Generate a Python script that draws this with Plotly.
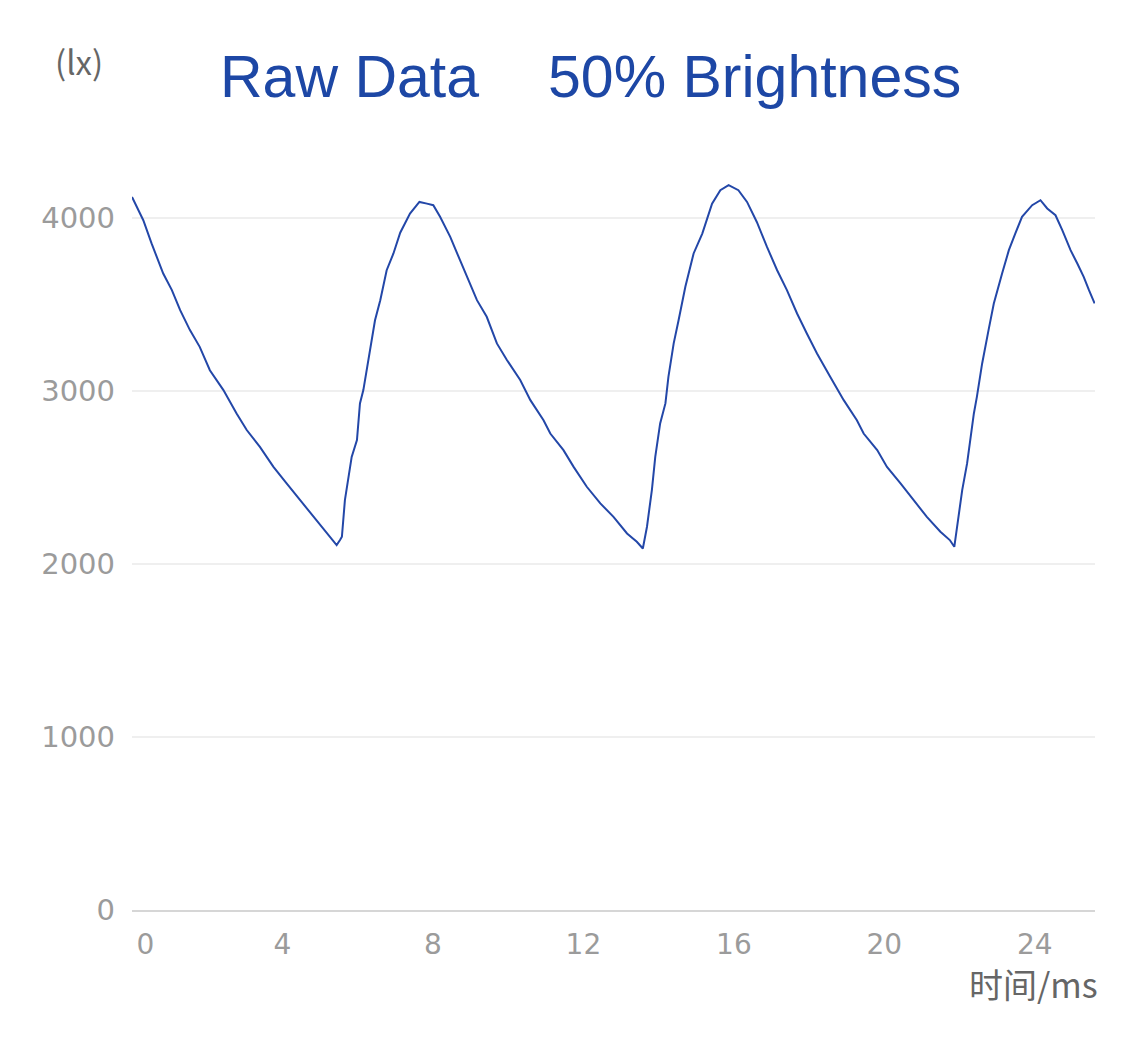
import plotly.graph_objects as go

time_ms = [0, 0.30, 0.52, 0.83, 1.06, 1.28, 1.54, 1.80, 2.07, 2.43, 2.78, 3.05, 3.40, 3.76, 4.11,
           4.47, 4.82, 5.18, 5.44, 5.53, 5.58, 5.66, 5.75, 5.84, 5.98, 6.06, 6.15, 6.33, 6.46, 6.60,
           6.77, 6.95, 7.13, 7.39, 7.64, 7.84, 8.01, 8.19, 8.46, 8.72, 8.99, 9.17, 9.43, 9.70, 9.97,
           10.32, 10.59, 10.94, 11.12, 11.47, 11.74, 12.09, 12.45, 12.80, 13.16, 13.42, 13.58, 13.69,
           13.82, 13.91, 14.04, 14.18, 14.26, 14.40, 14.53, 14.71, 14.93, 15.16, 15.42, 15.64, 15.86,
           16.12, 16.35, 16.61, 16.88, 17.15, 17.41, 17.68, 17.94, 18.21, 18.56, 18.92, 19.27, 19.45,
           19.81, 20.07, 20.43, 20.78, 21.13, 21.49, 21.74, 21.86, 21.98, 22.07, 22.20, 22.38, 22.46,
           22.60, 22.77, 22.91, 23.13, 23.31, 23.48, 23.66, 23.93, 24.15, 24.33, 24.55, 24.73, 24.95,
           25.13, 25.30, 25.44, 25.59]

lux = [4123, 3988, 3854, 3680, 3584, 3468, 3353, 3256, 3121, 3006, 2871, 2775, 2678, 2562, 2466,
       2370, 2273, 2177, 2110, 2139, 2158, 2370, 2486, 2620, 2717, 2929, 3006, 3256, 3410, 3526,
       3699, 3796, 3916, 4027, 4094, 4084, 4075, 4008, 3892, 3757, 3622, 3526, 3430, 3276, 3179,
       3064, 2948, 2832, 2755, 2659, 2562, 2447, 2351, 2273, 2177, 2129, 2090, 2216,
       2428, 2620, 2813, 2929, 3083, 3276, 3410, 3603, 3796, 3911, 4084, 4162, 4191,
       4162, 4094, 3978, 3834, 3699, 3584, 3449, 3333, 3218, 3083, 2948, 2832, 2755,
       2659, 2562, 2466, 2370, 2273, 2187, 2139, 2100, 2293, 2428, 2582, 2871, 2967,
       3160, 3353, 3507, 3680, 3815, 3911, 4008, 4075, 4104, 4056, 4017, 3931, 3815,
       3738, 3661, 3584, 3507]

x_tick_vals = [0, 4, 8, 12, 16, 20, 24]
x_tick_text = ["\u00a0\u00a0\u00a00", "4", "8", "12", "16", "20", "24"]
y_tick_vals = [0, 1000, 2000, 3000, 4000]
y_tick_text = ["0", "1000", "2000", "3000", "4000"]

title_left = "Raw Data"
title_right = "50% Brightness"
y_unit = "(lx)"
x_unit = "时间/ms"

LINE = "#2347a8"
TITLE = "#1d47a5"
TICK = "#9b9b9b"
UNIT = "#666666"
TICK_FONT = "DejaVu Sans, Liberation Sans, sans-serif"

fig = go.Figure()
fig.add_trace(go.Scatter(x=time_ms, y=lux, mode="lines",
                         line=dict(color=LINE, width=2), showlegend=False))

fig.update_layout(
    width=1125, height=1040,
    margin=dict(l=132, r=30, t=149, b=130),
    paper_bgcolor="white", plot_bgcolor="white",
    font=dict(family="Liberation Sans, Arial, sans-serif"),
    xaxis=dict(range=[0, 25.6], tickvals=x_tick_vals, ticktext=x_tick_text,
               showgrid=False, zeroline=False, showline=True, linecolor="#d6d6d6", linewidth=2,
               ticks="", ticklabelstandoff=8,
               tickfont=dict(size=28, color=TICK, family=TICK_FONT)),
    yaxis=dict(range=[0, 4400], tickvals=y_tick_vals, ticktext=y_tick_text,
               showgrid=True, gridcolor="#efefef", gridwidth=2, zeroline=False,
               showline=False, ticks="", ticklabelstandoff=16,
               tickfont=dict(size=29, color=TICK, family=TICK_FONT)),
    annotations=[
        dict(text=title_left, xref="paper", yref="paper", x=0.0893, y=1.095,
             xanchor="left", yanchor="middle", showarrow=False,
             font=dict(size=59, color=TITLE, family="Liberation Sans, Arial, sans-serif")),
        dict(text=title_right, xref="paper", yref="paper", x=0.4299, y=1.095,
             xanchor="left", yanchor="middle", showarrow=False,
             font=dict(size=59, color=TITLE, family="Liberation Sans, Arial, sans-serif")),
        dict(text=y_unit, xref="paper", yref="paper", x=-0.055, y=1.115,
             xanchor="center", yanchor="middle", showarrow=False,
             font=dict(size=33, color=UNIT, family="Noto Sans CJK SC, sans-serif")),
        dict(text=x_unit, xref="paper", yref="paper", x=1.005, y=-0.097,
             xanchor="right", yanchor="middle", showarrow=False,
             font=dict(size=34, color=UNIT, family="Noto Sans CJK SC, sans-serif")),
    ],
)

fig.write_html("out.html")
